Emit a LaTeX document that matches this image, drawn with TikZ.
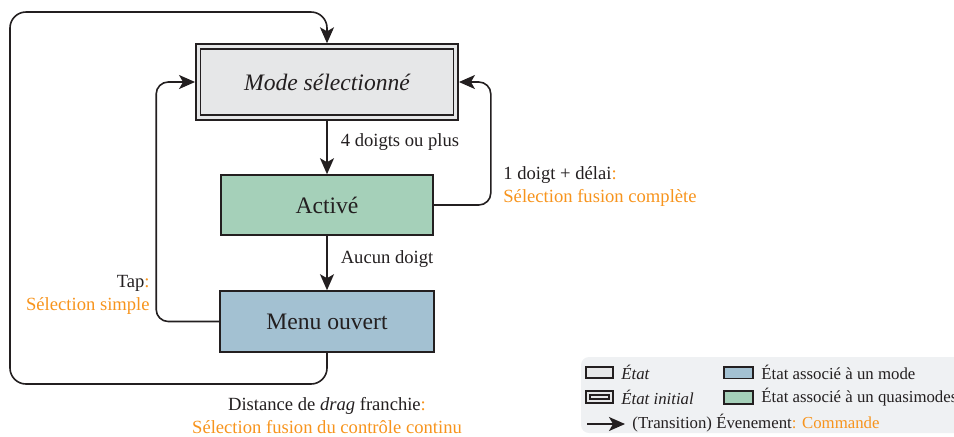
\documentclass[tikz,border=0pt]{standalone}
\usepackage{fontspec}
\setmainfont{Liberation Serif}
\usetikzlibrary{arrows.meta}
\definecolor{linedark}{HTML}{231F20}
\definecolor{statefill}{HTML}{E6E7E8}
\definecolor{quasifill}{HTML}{A5D0B9}
\definecolor{modefill}{HTML}{A3C1D2}
\definecolor{cmdorange}{HTML}{F7941D}
\definecolor{legendbg}{HTML}{EFF1F3}
\def\cmd#1{\textcolor{cmdorange}{#1}}
\tikzset{
	state/.style={draw=linedark, line width=0.8pt, inner sep=0pt, text=linedark, font=\fontsize{11.8}{14}\selectfont},
	trans/.style={draw=linedark, line width=0.8pt, rounded corners=6pt, -{Stealth[length=8pt, width=7pt, inset=2pt]}},
	evt/.style={inner sep=0pt, text=linedark, font=\fontsize{9.3}{11.5}\selectfont},
	legtext/.style={inner sep=0pt, anchor=west, text=linedark, font=\fontsize{8.4}{10}\selectfont},
	legbox/.style={draw=linedark, line width=0.8pt},
}
\begin{document}
\begin{tikzpicture}[x=0.5pt, y=-0.5pt]
			%%%%% START %%%%%
			\useasboundingbox (0,0) rectangle (954,436);
			
			% states
			\node[state, fill=statefill, double=statefill, double distance=1.5pt, outer sep=1.6pt,
				minimum width=128.75pt, minimum height=35.5pt, font=\fontsize{11.8}{14}\selectfont\itshape] (mode) at (327,82) {Mode sélectionné};
			\node[state, fill=quasifill, minimum width=106pt, minimum height=30pt] (active) at (327,205) {Activé};
			\node[state, fill=modefill, minimum width=107pt, minimum height=30.5pt] (menu) at (327,321.5) {Menu ouvert};
			
			% transitions
			\draw[trans] (mode) -- node[evt, anchor=west, pos=.4, xshift=6.5pt] (lblfour) {4 doigts ou plus} (active);
			\draw[trans] (active) -- node[evt, anchor=west, pos=.42, xshift=6.5pt] (lblnone) {Aucun doigt} (menu);
			
			\draw[trans] (active.east) -- ++(57,0) |- (mode.east);
			\node[evt, anchor=west, align=left] (lbldelay) at (503,187) {1 doigt + délai\cmd{:}\\\cmd{Sélection fusion complète}};
			
			\draw[trans] (menu.west) -- ++(-63,0) |- (mode.west);
			\node[evt, anchor=east, align=right] (lbltap) at (150,295) {Tap\cmd{:}\\\cmd{Sélection simple}};
			
			\coordinate (loopsw) at (10,384);
			\coordinate (loopnw) at (10,12);
			\draw[trans, rounded corners=8pt] (menu.south) |- (loopsw) -- (loopnw) -| (mode.north);
			\node[evt, align=center] (lbldrag) at (327,416) {Distance de \emph{drag} franchie\cmd{:}\\\cmd{Sélection fusion du contrôle continu}};
			
			% legend
			\fill[legendbg, rounded corners=4pt] (581,357) rectangle (990,433);
			
			\draw[legbox, fill=statefill] (586,367) rectangle (613,378);
			\node[legtext, font=\fontsize{8.4}{10}\selectfont\itshape] (legstate) at (621,372.5) {État};
			
			\draw[legbox, fill=statefill] (586,391) rectangle (613,403);
			\draw[legbox] (590,395) rectangle (609,399);
			\node[legtext, font=\fontsize{8.4}{10}\selectfont\itshape] (leginit) at (621,397) {État initial};
			
			\draw[legbox, fill=modefill] (724,367) rectangle (753,378.5);
			\node[legtext] (legmode) at (761,372.5) {État associé à un mode};
			
			\draw[legbox, fill=quasifill] (724,391) rectangle (753,404);
			\node[legtext] (legquasi) at (761,397) {État associé à un quasimodes};
			
			\coordinate (legarrow) at (587,424);
			\draw[trans] (legarrow) -- ++(38,0);
			\node[legtext] (legtrans) at (632,423.5) {(Transition) Évenement\cmd{: Commande}};
			%%%%% END %%%%%
\end{tikzpicture}
\end{document}
